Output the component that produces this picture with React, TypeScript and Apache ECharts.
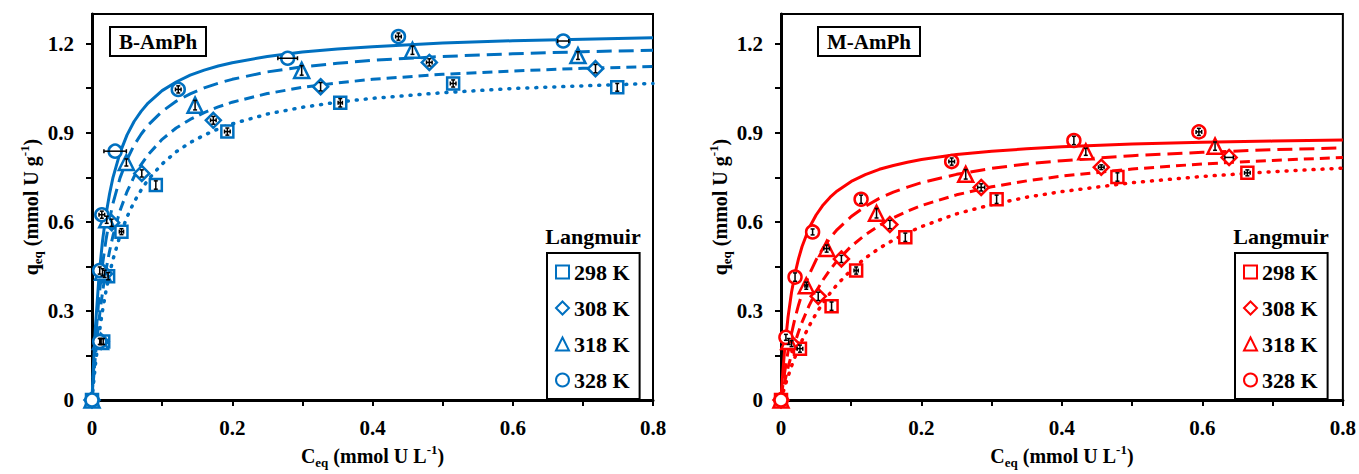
import React, { useEffect, useRef } from "react";
import * as echarts from "echarts";

const FONT = "'Liberation Serif', 'Times New Roman', Times, serif";
const BLUE = "#0070C0";
const RED = "#FF0000";

const TEMPS = ["298 K", "308 K", "318 K", "328 K"];
const X_TICKS = [0, 0.2, 0.4, 0.6, 0.8];
const Y_TICKS = [0, 0.3, 0.6, 0.9, 1.2];

// Langmuir fit curves at these concentrations
const CURVE_C = [0, 0.002, 0.005, 0.01, 0.015, 0.02, 0.025, 0.03, 0.04, 0.05, 0.06, 0.07, 0.08, 0.1, 0.12, 0.14, 0.16, 0.18, 0.2, 0.25, 0.3, 0.35, 0.4, 0.5, 0.6, 0.7, 0.8];
const B_FIT_298 = [0, 0.052, 0.122, 0.22, 0.301, 0.368, 0.425, 0.474, 0.554, 0.617, 0.667, 0.707, 0.742, 0.795, 0.836, 0.867, 0.892, 0.913, 0.93, 0.963, 0.986, 1.003, 1.016, 1.035, 1.049, 1.058, 1.066];
const B_FIT_308 = [0, 0.066, 0.153, 0.27, 0.363, 0.439, 0.501, 0.554, 0.638, 0.702, 0.752, 0.793, 0.826, 0.878, 0.916, 0.945, 0.968, 0.987, 1.003, 1.032, 1.053, 1.068, 1.08, 1.097, 1.108, 1.117, 1.123];
const B_FIT_318 = [0, 0.09, 0.202, 0.347, 0.456, 0.54, 0.608, 0.663, 0.748, 0.81, 0.858, 0.895, 0.926, 0.972, 1.006, 1.031, 1.051, 1.067, 1.08, 1.105, 1.122, 1.134, 1.144, 1.157, 1.166, 1.173, 1.178];
const B_FIT_328 = [0, 0.114, 0.25, 0.417, 0.536, 0.625, 0.694, 0.75, 0.833, 0.893, 0.938, 0.972, 1.0, 1.042, 1.071, 1.094, 1.111, 1.125, 1.136, 1.157, 1.172, 1.182, 1.19, 1.202, 1.21, 1.215, 1.22];
const M_FIT_298 = [0, 0.017, 0.042, 0.079, 0.114, 0.145, 0.174, 0.201, 0.249, 0.291, 0.328, 0.36, 0.389, 0.438, 0.478, 0.511, 0.539, 0.563, 0.584, 0.627, 0.658, 0.683, 0.702, 0.732, 0.753, 0.769, 0.781];
const M_FIT_308 = [0, 0.024, 0.058, 0.109, 0.154, 0.194, 0.23, 0.262, 0.318, 0.365, 0.405, 0.439, 0.469, 0.518, 0.556, 0.588, 0.614, 0.636, 0.655, 0.691, 0.718, 0.738, 0.754, 0.778, 0.795, 0.807, 0.817];
const M_FIT_318 = [0, 0.038, 0.09, 0.163, 0.224, 0.276, 0.32, 0.359, 0.422, 0.472, 0.512, 0.546, 0.574, 0.618, 0.652, 0.679, 0.7, 0.717, 0.732, 0.76, 0.78, 0.795, 0.806, 0.823, 0.834, 0.843, 0.849];
const M_FIT_328 = [0, 0.074, 0.165, 0.279, 0.363, 0.426, 0.476, 0.517, 0.579, 0.623, 0.657, 0.683, 0.704, 0.736, 0.759, 0.777, 0.79, 0.801, 0.81, 0.827, 0.838, 0.846, 0.853, 0.862, 0.868, 0.872, 0.876];

// Experimental points [Ceq, qeq]
const B_PTS_298 = [[0, 0], [0.016, 0.197], [0.023, 0.417], [0.042, 0.567], [0.091, 0.724], [0.193, 0.904], [0.354, 1.001], [0.515, 1.066], [0.749, 1.053]];
const B_PTS_308 = [[0, 0], [0.013, 0.197], [0.018, 0.425], [0.028, 0.597], [0.071, 0.763], [0.173, 0.942], [0.326, 1.055], [0.481, 1.137], [0.718, 1.116]];
const B_PTS_318 = [[0, 0], [0.012, 0.197], [0.015, 0.43], [0.021, 0.607], [0.049, 0.8], [0.147, 0.993], [0.299, 1.11], [0.457, 1.178], [0.693, 1.16]];
const B_PTS_328 = [[0, 0], [0.011, 0.197], [0.011, 0.436], [0.014, 0.624], [0.033, 0.838], [0.123, 1.046], [0.279, 1.151], [0.437, 1.224], [0.672, 1.209]];
const M_PTS_298 = [[0, 0], [0.027, 0.173], [0.072, 0.316], [0.107, 0.436], [0.177, 0.548], [0.307, 0.676], [0.479, 0.751], [0.664, 0.765]];
const M_PTS_308 = [[0, 0], [0.015, 0.19], [0.053, 0.349], [0.086, 0.475], [0.155, 0.591], [0.285, 0.716], [0.456, 0.784], [0.638, 0.817]];
const M_PTS_318 = [[0, 0], [0.011, 0.197], [0.036, 0.385], [0.065, 0.51], [0.136, 0.629], [0.263, 0.76], [0.434, 0.836], [0.618, 0.855]];
const M_PTS_328 = [[0, 0], [0.007, 0.211], [0.02, 0.414], [0.045, 0.566], [0.114, 0.676], [0.243, 0.803], [0.417, 0.874], [0.595, 0.903]];

// Error bars [xErr, yErr]
const B_ERR_298 = [[0, 0], [0, 0.01], [0, 0.012], [0.003, 0.01], [0, 0.014], [0.004, 0.012], [0.003, 0.014], [0.004, 0.012], [0, 0.013]];
const B_ERR_308 = [[0, 0], [0, 0.01], [0, 0.012], [0, 0.012], [0, 0.012], [0.004, 0.013], [0, 0.014], [0.004, 0.012], [0, 0.014]];
const B_ERR_318 = [[0, 0], [0, 0.01], [0, 0.012], [0, 0.012], [0, 0.012], [0, 0.016], [0, 0.016], [0, 0.014], [0, 0.013]];
const B_ERR_328 = [[0, 0], [0, 0.01], [0, 0.012], [0.004, 0.012], [0.016, 0], [0.004, 0.012], [0.014, 0], [0.004, 0.012], [0.008, 0]];
const M_ERR_298 = [[0, 0], [0.004, 0.012], [0, 0.014], [0.003, 0.012], [0, 0.014], [0, 0.014], [0, 0.014], [0.004, 0.01]];
const M_ERR_308 = [[0, 0], [0, 0.01], [0, 0.014], [0, 0.012], [0, 0.014], [0.005, 0.012], [0.004, 0.008], [0.006, 0]];
const M_ERR_318 = [[0, 0], [0, 0.01], [0.002, 0.012], [0.004, 0.012], [0, 0.016], [0, 0.016], [0, 0.012], [0, 0.014]];
const M_ERR_328 = [[0, 0], [0, 0.01], [0, 0.014], [0, 0.01], [0, 0.014], [0.004, 0.012], [0, 0.014], [0.004, 0.012]];

const SYMBOLS = ["rect", "diamond", "triangle", "circle"];
const SYMBOL_SIZES = [12, 15, 15, 13];
const LINE_TYPES: any[] = [
  { type: [1, 8], cap: "round", width: 3.5 },
  { type: [10, 6], cap: "butt", width: 3 },
  { type: [15, 7], cap: "butt", width: 3 },
  { type: "solid", cap: "butt", width: 3 },
];

const PANELS = [
  { label: "B-AmPh", color: BLUE, fits: [B_FIT_298, B_FIT_308, B_FIT_318, B_FIT_328], pts: [B_PTS_298, B_PTS_308, B_PTS_318, B_PTS_328], errs: [B_ERR_298, B_ERR_308, B_ERR_318, B_ERR_328] },
  { label: "M-AmPh", color: RED, fits: [M_FIT_298, M_FIT_308, M_FIT_318, M_FIT_328], pts: [M_PTS_298, M_PTS_308, M_PTS_318, M_PTS_328], errs: [M_ERR_298, M_ERR_308, M_ERR_318, M_ERR_328] },
];

const GRIDS = [
  { left: 92, top: 14, width: 561, height: 399 },
  { left: 781, top: 14, width: 562, height: 399 },
];

const RICH = {
  b: { fontFamily: FONT, fontWeight: "bold", fontSize: 20, color: "#000", lineHeight: 26 },
  s: { fontFamily: FONT, fontWeight: "bold", fontSize: 13, color: "#000", lineHeight: 13, verticalAlign: "bottom" },
  p: { fontFamily: FONT, fontWeight: "bold", fontSize: 13, color: "#000", lineHeight: 13, verticalAlign: "top" },
};

function buildOption() {
  const labelStyle = { fontFamily: FONT, fontWeight: "bold", fontSize: 21, color: "#000" };
  const xAxis: any[] = [];
  const yAxis: any[] = [];
  const series: any[] = [];
  const legend: any[] = [];
  const title: any[] = [];
  const graphic: any[] = [];

  PANELS.forEach((panel, p) => {
    xAxis.push({
      gridIndex: p,
      type: "value",
      min: 0,
      max: 0.8,
      interval: 0.2,
      axisLine: { show: true, onZero: false, lineStyle: { color: "#000", width: 3 } },
      axisTick: { show: true, inside: false, length: 6, lineStyle: { color: "#000", width: 2 } },
      minorTick: { show: true, splitNumber: 2, length: 6, lineStyle: { color: "#000", width: 2 } },
      splitLine: { show: false },
      axisLabel: { ...labelStyle, margin: 17, customValues: X_TICKS },
      name: "{b|C}{s|eq}{b| (mmol U L}{p|-1}{b|)}",
      nameLocation: "middle",
      nameGap: 43,
      nameTextStyle: { rich: RICH },
    });
    yAxis.push({
      gridIndex: p,
      type: "value",
      min: 0,
      max: 1.3,
      interval: 0.3,
      axisLine: { show: true, onZero: false, lineStyle: { color: "#000", width: 3 } },
      axisTick: { show: true, inside: false, length: 6, lineStyle: { color: "#000", width: 2 }, customValues: Y_TICKS },
      minorTick: { show: true, splitNumber: 2, length: 6, lineStyle: { color: "#000", width: 2 } },
      splitLine: { show: false },
      axisLabel: { ...labelStyle, margin: 18, customValues: Y_TICKS },
      name: "{b|q}{s|eq}{b| (mmol U g}{p|-1}{b|)}",
      nameLocation: "middle",
      nameGap: 46,
      nameRotate: 90,
      nameTextStyle: { rich: RICH },
    });

    panel.fits.forEach((fit, i) => {
      series.push({
        name: panel.label + " fit " + TEMPS[i],
        type: "line",
        xAxisIndex: p,
        yAxisIndex: p,
        data: CURVE_C.map((c, k) => [c, fit[k]]),
        showSymbol: false,
        symbol: "none",
        smooth: false,
        lineStyle: { color: panel.color, join: "round", ...LINE_TYPES[i] },
        z: 2,
        silent: true,
      });
    });

    panel.pts.forEach((pts, i) => {
      series.push({
        name: panel.label + " " + TEMPS[i],
        type: "scatter",
        xAxisIndex: p,
        yAxisIndex: p,
        data: pts,
        symbol: SYMBOLS[i],
        symbolSize: SYMBOL_SIZES[i],
        itemStyle: { color: "#fff", borderColor: panel.color, borderWidth: 2.5, opacity: 1 },
        z: 3,
      });
    });

    const errData: any[] = [];
    panel.pts.forEach((pts, i) => {
      pts.forEach((pt, k) => {
        errData.push([pt[0], pt[1], panel.errs[i][k][0], panel.errs[i][k][1]]);
      });
    });
    series.push({
      name: panel.label + " error",
      type: "custom",
      xAxisIndex: p,
      yAxisIndex: p,
      data: errData,
      encode: { x: 0, y: 1 },
      z: 5,
      silent: true,
      renderItem: (params: any, api: any) => {
        const x = api.value(0);
        const y = api.value(1);
        const ex = api.value(2);
        const ey = api.value(3);
        const children: any[] = [];
        const st = { stroke: "#000", lineWidth: 1.5 };
        const cap = 2;
        if (ey > 0) {
          const t = api.coord([x, y + ey]);
          const b = api.coord([x, y - ey]);
          children.push({ type: "line", shape: { x1: t[0], y1: t[1], x2: b[0], y2: b[1] }, style: st });
          children.push({ type: "line", shape: { x1: t[0] - cap, y1: t[1], x2: t[0] + cap, y2: t[1] }, style: st });
          children.push({ type: "line", shape: { x1: b[0] - cap, y1: b[1], x2: b[0] + cap, y2: b[1] }, style: st });
        }
        if (ex > 0) {
          const l = api.coord([x - ex, y]);
          const r = api.coord([x + ex, y]);
          children.push({ type: "line", shape: { x1: l[0], y1: l[1], x2: r[0], y2: r[1] }, style: st });
          children.push({ type: "line", shape: { x1: l[0], y1: l[1] - cap, x2: l[0], y2: l[1] + cap }, style: st });
          children.push({ type: "line", shape: { x1: r[0], y1: r[1] - cap, x2: r[0], y2: r[1] + cap }, style: st });
        }
        return { type: "group", children };
      },
    });

    const g = GRIDS[p];
    const right = g.left + g.width;
    legend.push({
      data: TEMPS.map((t) => panel.label + " " + t),
      formatter: (name: string) => name.slice(panel.label.length + 1),
      orient: "vertical",
      left: right - 106 - (p === 1 ? 2 : 0),
      top: 253,
      padding: [8, 10, 8, 8],
      itemGap: 14,
      itemWidth: 13,
      itemHeight: 13,
      borderColor: "#000",
      borderWidth: 2,
      selectedMode: false,
      textStyle: { fontFamily: FONT, fontWeight: "bold", fontSize: 22, color: "#000" },
    });
    graphic.push({
      type: "text",
      x: right - 60 - (p === 1 ? 2 : 0),
      y: 236,
      style: { text: "Langmuir", fontFamily: FONT, fontWeight: "bold", fontSize: 22, fill: "#000", align: "center", verticalAlign: "middle" },
    });
    title.push({
      text: panel.label,
      left: g.left + 18 + (p === 1 ? 19 : 0),
      top: 27,
      borderColor: "#000",
      borderWidth: 2,
      padding: [4, 9, 4, 9],
      textStyle: { fontFamily: FONT, fontWeight: "bold", fontSize: 21, color: "#000" },
    });
  });

  return {
    animation: false,
    backgroundColor: "#fff",
    grid: GRIDS.map((g) => ({ ...g, show: true, borderColor: "#000", borderWidth: 2, backgroundColor: "transparent", containLabel: false })),
    xAxis,
    yAxis,
    series,
    legend,
    title,
    graphic,
  };
}

export default function App() {
  const ref = useRef<HTMLDivElement>(null);
  useEffect(() => {
    if (!ref.current) return;
    const chart = echarts.init(ref.current, null, { renderer: "svg" });
    chart.setOption(buildOption() as any);
    return () => chart.dispose();
  }, []);
  return (
    <div
      ref={ref}
      style={{ position: "absolute", left: 0, top: 0, width: 1359, height: 474, background: "#fff" }}
    />
  );
}
